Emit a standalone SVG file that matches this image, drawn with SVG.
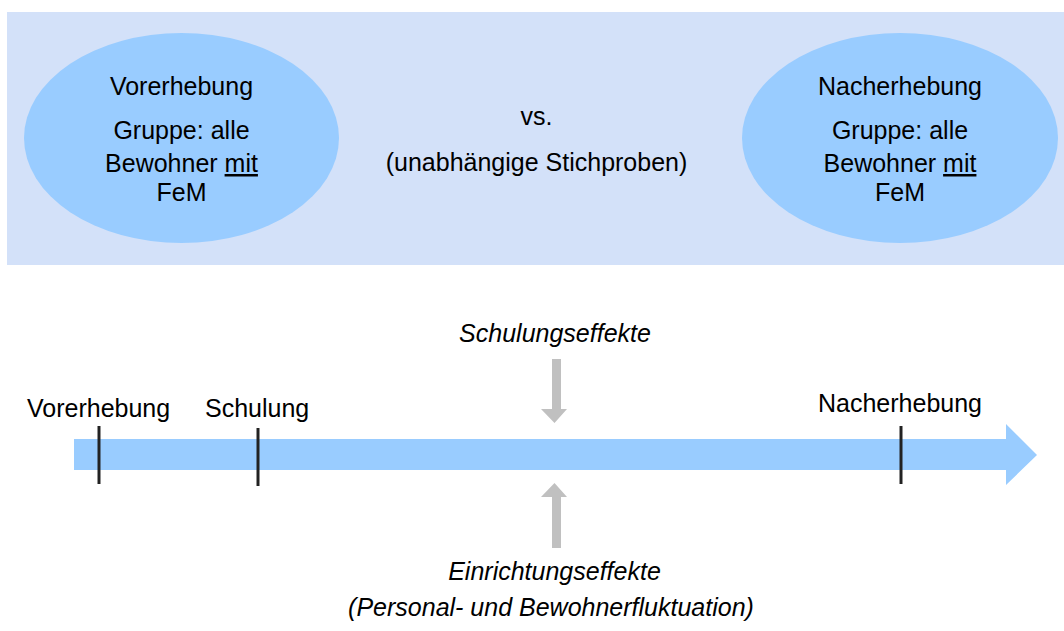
<svg xmlns="http://www.w3.org/2000/svg" width="1064" height="631" viewBox="0 0 1064 631">
<style>
text{font-family:"Liberation Sans",Arial,sans-serif;font-size:25px;fill:#000}
.c{text-anchor:middle}
.i{font-style:italic}
.ell{fill:#99ccff}
.tick{stroke:#222;stroke-width:3}
.gray{fill:#c0c0c0}
</style>
<rect x="0" y="0" width="1064" height="631" fill="#fff"/>
<rect id="panel" x="7" y="12" width="1057" height="253" fill="#d3e1f9"/>
<g id="pre">
<ellipse class="ell" cx="181.5" cy="138" rx="157.5" ry="105"/>
<text class="c" x="181.5" y="95">Vorerhebung</text>
<text class="c" x="181.5" y="139">Gruppe: alle</text>
<text class="c" x="181.5" y="172">Bewohner <tspan text-decoration="underline">mit</tspan></text>
<text class="c" x="181.5" y="201">FeM</text>
</g>
<g id="vs">
<text class="c" x="536.5" y="125">vs.</text>
<text class="c" x="536.5" y="171">(unabhängige Stichproben)</text>
</g>
<g id="post">
<ellipse class="ell" cx="900" cy="138" rx="158" ry="105"/>
<text class="c" x="900" y="95">Nacherhebung</text>
<text class="c" x="900" y="139">Gruppe: alle</text>
<text class="c" x="900" y="172">Bewohner <tspan text-decoration="underline">mit</tspan></text>
<text class="c" x="900" y="201">FeM</text>
</g>
<g id="timeline">
<polygon fill="#99ccff" points="74,439 1006,439 1006,424 1037,455 1006,485 1006,470 74,470"/>
</g>
<g id="connectors">
<line class="tick" x1="99" y1="426" x2="99" y2="484"/>
<line class="tick" x1="258" y1="428" x2="258" y2="486"/>
<line class="tick" x1="901" y1="426" x2="901" y2="484"/>
<polygon class="gray" points="552,359 561,359 561,409 567,409 554.5,423 541,409 552,409"/>
<polygon class="gray" points="552,548 561,548 561,497 567,497 554.5,483 541,497 552,497"/>
</g>
<g id="labels">
<text x="27" y="417">Vorerhebung</text>
<text x="205" y="417">Schulung</text>
<text x="818" y="412">Nacherhebung</text>
<text class="c i" x="555" y="342">Schulungseffekte</text>
<text class="c i" x="554.5" y="580">Einrichtungseffekte</text>
<text class="c i" x="551" y="616">(Personal- und Bewohnerfluktuation)</text>
</g>
</svg>
